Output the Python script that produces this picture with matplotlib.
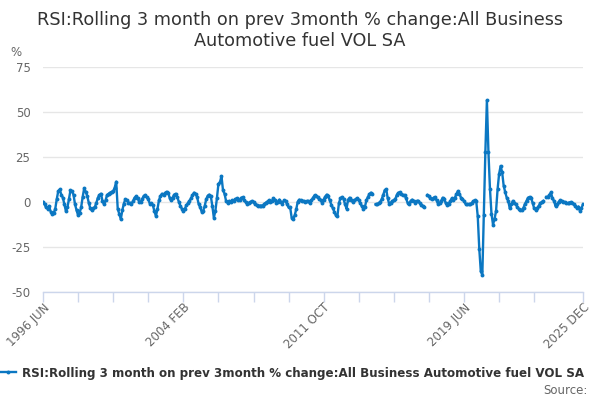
import numpy as np
import pandas as pd
import matplotlib
matplotlib.use("Agg")
import matplotlib.pyplot as plt
from matplotlib.lines import Line2D

plt.rcParams['font.family'] = ['DejaVu Sans']

title = "RSI:Rolling 3 month on prev 3month % change:All Business\nAutomotive fuel VOL SA"
series_name = "RSI:Rolling 3 month on prev 3month % change:All Business Automotive fuel VOL SA"
start_month = "1996-06"

# monthly values (NaN = missing)
vals_1996_2001 = [0, -1.3, -3, -3.7, -2.2, -5.3, -6.5, -6, -4, 1.5, 6, 7, 4, 2.5, -1.3, -5,
                  -3, 1.5, 6.5, 6, 4, -1.3, -4.6, -7.4, -6, -3, 2.8, 7.6, 5.7, 3.3, -0.4,
                  -3.5, -4.6, -3.5, -2.8, -0.4, 2.4, 3.9, 4.6, 0.6, -1.3, 0.9, 3.9, 4.6,
                  5.2, 5.7, 6, 8, 11.3, -4, -6.5, -9.6, -4.6, -0.9, 1.5, 0.9, -0.4, -0.4]
vals_2001_2006 = [-1.3, 0.6, 2.4, 3.1, 2, 0.2, 0, 1.6, 3.3, 3.9, 2.8, 1.6, -0.9, -0.6,
                  -1.7, -5, -7.8, -4.1, 0.9, 3.3, 4.6, 3.9, 5, 5.7, 5.2, 2.4, 0.9, 2.4,
                  4.1, 4.6, 2.8, 0.2, -2, -3.7, -5, -3.7, -1.9, -0.7, 0.6, 2, 3.7, 5.2,
                  4.6, 2.8, -0.9, -2.8, -5.4, -5, -2.2, 1.5, 3.5, 4.1, 3.3, -2.2, -8.7,
                  -5, 2, 10, 11, 14.4, 6.5, 4.6, 0.6]
vals_2006_2011 = [-0.4, 0.6, 0.2, 0.9, 0.6, 1.5, 2, 1.1, 1.3, 2.4, 2.6, 0.9, -0.2, -0.9,
                  -0.4, 0, 0.6, -0.2, -1.1, -1.7, -2, -2, -2, -2, -1.1, -0.4, 0.2, 0.9,
                  -0.2, 0.6, 2, 1.3, -0.6, 0.2, 1.3, -0.2, -0.9, 0.9, 0.6, -1.3, -3,
                  -2.8, -8.7, -9.3, -7.4, -4.1, 0.2, 1.3, 0.9, 0.7, 0.6, 0.2]
vals_2011_2016 = [0.6, 0.4, -0.7, 0.9, 2.4, 3.7, 3.5, 2.6, 1.8, 0.9, -0.4, 1.3, 3, 4.1,
                  3.1, 0.9, -1.5, -3.5, -5.4, -7.4, -7.8, -0.6, 2, 2.8, 1.8, -1.3, -3.7,
                  1.3, 2.4, 1.3, 0.2, 0.9, 1.5, 2.2, 1.3, -0.7, -2.4, -3.7, -2.8, 0.9,
                  2.8, 4.3, 5.2, 4.6, np.nan, -1.3, -1.3, -0.7, 0, 1.5, 3.9, 6.5, 7, 2,
                  -1.3, -0.4, 0.6, 0.9, 1.8, 4, 5.2]
vals_2016_2020 = [5.3, 4.3, 3.9, 3.9, 2, -0.4, -1.3, 0.6, 1.3, 0.6, -0.4, 0.6, 0.6, -0.6,
                  -1.5, -2.2, -2.8, np.nan, 3.9, 3.3, 2, 1.5, 2.4, 2.8, 0.9, -1.1, -0.6,
                  0.6, 2.4, 1.6, -0.6, -1.7, -0.9, 0.6, 2, 0.9, 2.4, 4.3, 6.1, 4.6, 2.4,
                  1.5, 0.6, -1.1, -1.3, -1.3, -1.1, -0.7, 0.4, 0.9, 0.5]
vals_2020_2025 = [-7.9, -26, -38.5, -40.5, -7, 28, 56.5, 28, 7.5, -6.5, -12.5, -9.5, -5,
                  7, 15.6, 20, 16.5, 9, 5.5, 2.4, 0.6, -3.6, -1.3, 0.6, -0.4, -1.3, -3,
                  -3.9, -4.5, -4.3, -3.1, -1, 0.7, 2.4, 2.8, 2.3, -0.5, -3.5, -4.3, -3.3,
                  -2, -0.8, 0, 0.6, np.nan, 2.8, 2.8, 4, 5.3, 2, 0.6, -2.3, -1.3, 0, 0.9,
                  0.6, 0.2, 0, -0.5, -0.8, -0.3, 0, -0.4, -1.3, -2.2, -3.4, -2.5, -5,
                  -3.5, -1.2]

values = np.array(vals_1996_2001 + vals_2001_2006 + vals_2006_2011 +
                  vals_2011_2016 + vals_2016_2020 + vals_2020_2025, dtype=float)
months = pd.date_range(start_month, periods=len(values), freq="MS")
labels_all = [d.strftime("%Y %b").upper() for d in months]

yticks = [-50, -25, 0, 25, 50, 75]
tick_step = 23
labelled_ticks = ["1996 JUN", "2004 FEB", "2011 OCT", "2019 JUN", "2025 DEC"]

fig = plt.figure(figsize=(6, 4), dpi=100)
ax = fig.add_axes([43/600, 1-292/400, 540/600, 225/400])

x = np.arange(len(values))
col = "#0b77c2"
ax.plot(x, values, color=col, lw=1.7, marker="o", ms=2.8, mew=0, zorder=3)

ax.set_xlim(0, len(values)-1)
ax.set_ylim(-50, 75)
ax.set_yticks(yticks)
ax.set_yticklabels([str(v) for v in yticks], color="#666666", fontsize=8.5)
ax.grid(axis="y", color="#e6e6e6", lw=1)
ax.set_axisbelow(True)
for s in ["top", "right", "left"]:
    ax.spines[s].set_visible(False)
ax.spines["bottom"].set_color("#ccd6eb")
ax.spines["bottom"].set_linewidth(1)
ax.tick_params(axis="y", length=0, pad=9)

ticks = list(range(0, len(values)-tick_step, tick_step)) + [len(values)-1]
ticks = sorted(set(t for t in ticks if t <= len(values)-1))
tick_labels = [labels_all[t] if labels_all[t] in labelled_ticks else "" for t in ticks]
ax.set_xticks(ticks)
ax.set_xticklabels(tick_labels, rotation=45, ha="right", rotation_mode="anchor",
                   color="#666666", fontsize=8.5)
ax.tick_params(axis="x", length=7.5, color="#ccd6eb", width=1, pad=-1)

fig.text(0.5, 1-30.5/400, title, ha="center", va="center", fontsize=12.7,
         color="#333333", linespacing=1.2)
fig.text(10/600, 1-52/400, "%", ha="left", va="center", fontsize=8.5, color="#666666")

handle = Line2D([], [], color=col, lw=1.7, marker="o", ms=2.8, mew=0)
fig.legend([handle], [series_name], loc="center", bbox_to_anchor=(0.487, 1-373/400),
           frameon=False, handlelength=1.3, handletextpad=0.5,
           prop={"weight": "bold", "size": 8.6}, labelcolor="#333333")
fig.text(588/600, 1-390/400, "Source:", ha="right", va="center", fontsize=8.5,
         color="#666666")

fig.savefig("out.png", dpi=100)
